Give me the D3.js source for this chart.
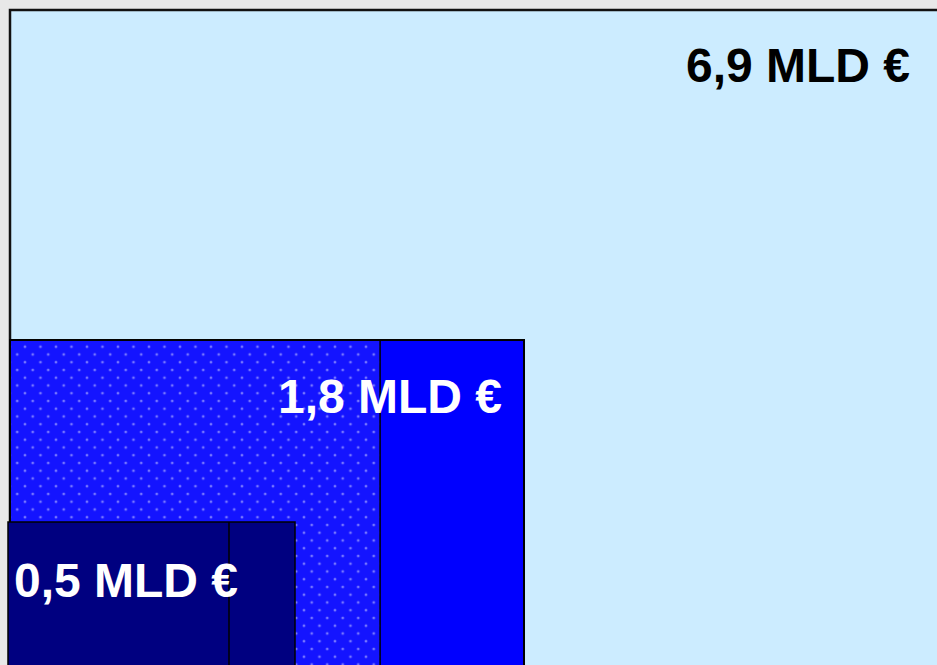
<!DOCTYPE html>
<html>
<head>
<meta charset="utf-8">
<script src="https://cdn.jsdelivr.net/npm/d3@7"></script>
<style>
  html, body { margin: 0; padding: 0; background: #e8e8e8; }
  svg { display: block; }
</style>
</head>
<body>
<script>
// ---- data ----
const labels      = ["6,9 MLD €", "1,8 MLD €", "0,5 MLD €"];
const values      = [6.9, 1.8, 0.5];
// extent of each block as share of the total block (width / height)
const widthShare  = [1, 0.5527, 0.3086];
const heightShare = [1, 0.4977, 0.2207];
// share of the block taken by its first sub-part (dotted / divider)
const subShare    = [null, 0.72, 0.77];
const fills       = ["#CCECFF", "#0000FF", "#000080"];
const labelColors = ["#000000", "#FFFFFF", "#FFFFFF"];

const W = 937, H = 665;
const svg = d3.select("body").append("svg").attr("width", W).attr("height", H);

svg.append("rect").attr("width", W).attr("height", H).attr("fill", "#e8e8e8");

const x = d3.scaleLinear().domain([0, 1]).range([10, 940]);
const y = d3.scaleLinear().domain([0, 1]).range([667, 10]);

// dot pattern
const defs = svg.append("defs");
const pat = defs.append("pattern")
  .attr("id", "dots").attr("patternUnits", "userSpaceOnUse")
  .attr("x", 21.1).attr("y", 342.8).attr("width", 15.5).attr("height", 15.5);
pat.append("rect").attr("width", 15.5).attr("height", 15.5).attr("fill", "#1414FF");
[[3.875, 3.875], [11.625, 11.625]].forEach(([cx, cy]) => {
  pat.append("circle").attr("cx", cx).attr("cy", cy).attr("r", 1.5).attr("fill", "#5a5aff");
  pat.append("circle").attr("cx", cx).attr("cy", cy).attr("r", 0.8).attr("fill", "#9a9aff");
});

const blocks = values.map((v, i) => ({
  label: labels[i], value: v, w: widthShare[i], h: heightShare[i], sub: subShare[i], i
}));

const xOff = [0, 0, -2]; // small left offset of the smallest block

// outer block
const b0 = blocks[0];
svg.append("rect")
  .attr("x", x(0)).attr("y", y(b0.h))
  .attr("width", x(b0.w) - x(0)).attr("height", y(0) - y(b0.h))
  .attr("fill", fills[0]).attr("stroke", "#111").attr("stroke-width", 2.5);

// middle block
const b1 = blocks[1];
svg.append("rect")
  .attr("x", x(0)).attr("y", y(b1.h))
  .attr("width", x(b1.w) - x(0)).attr("height", y(0) - y(b1.h))
  .attr("fill", fills[1]).attr("stroke", "#000").attr("stroke-width", 2);
svg.append("rect")
  .attr("x", x(0) + 1).attr("y", y(b1.h) + 1)
  .attr("width", x(b1.w * b1.sub) - x(0) - 1).attr("height", y(0) - y(b1.h))
  .attr("fill", "url(#dots)");
svg.append("line")
  .attr("x1", x(b1.w * b1.sub)).attr("x2", x(b1.w * b1.sub))
  .attr("y1", y(b1.h)).attr("y2", y(0))
  .attr("stroke", "#000").attr("stroke-width", 1.5);

// small block
const b2 = blocks[2];
const x2 = d3.scaleLinear().domain([0, 1]).range([x(0) + xOff[2], x(1) + xOff[2]]);
svg.append("rect")
  .attr("x", x2(0)).attr("y", y(b2.h))
  .attr("width", x(b2.w) - x(0)).attr("height", y(0) - y(b2.h))
  .attr("fill", fills[2]).attr("stroke", "#000").attr("stroke-width", 1.5);
svg.append("line")
  .attr("x1", x2(b2.w * b2.sub)).attr("x2", x2(b2.w * b2.sub))
  .attr("y1", y(b2.h)).attr("y2", y(0))
  .attr("stroke", "#000").attr("stroke-width", 1.5);

// labels
const font = "'Liberation Sans', Arial, Helvetica, sans-serif";
svg.append("text")
  .attr("x", 910).attr("y", y(b0.h) + 72)
  .attr("text-anchor", "end")
  .attr("font-family", font).attr("font-weight", "bold").attr("font-size", 48)
  .attr("fill", labelColors[0]).text(b0.label);
svg.append("text")
  .attr("x", x(b1.w) - 22).attr("y", y(b1.h) + 73)
  .attr("text-anchor", "end")
  .attr("font-family", font).attr("font-weight", "bold").attr("font-size", 48)
  .attr("fill", labelColors[1]).text(b1.label);
svg.append("text")
  .attr("x", x2(0) + 6).attr("y", y(b2.h) + 75)
  .attr("text-anchor", "start")
  .attr("font-family", font).attr("font-weight", "bold").attr("font-size", 48)
  .attr("fill", labelColors[2]).text(b2.label);
</script>
</body>
</html>
